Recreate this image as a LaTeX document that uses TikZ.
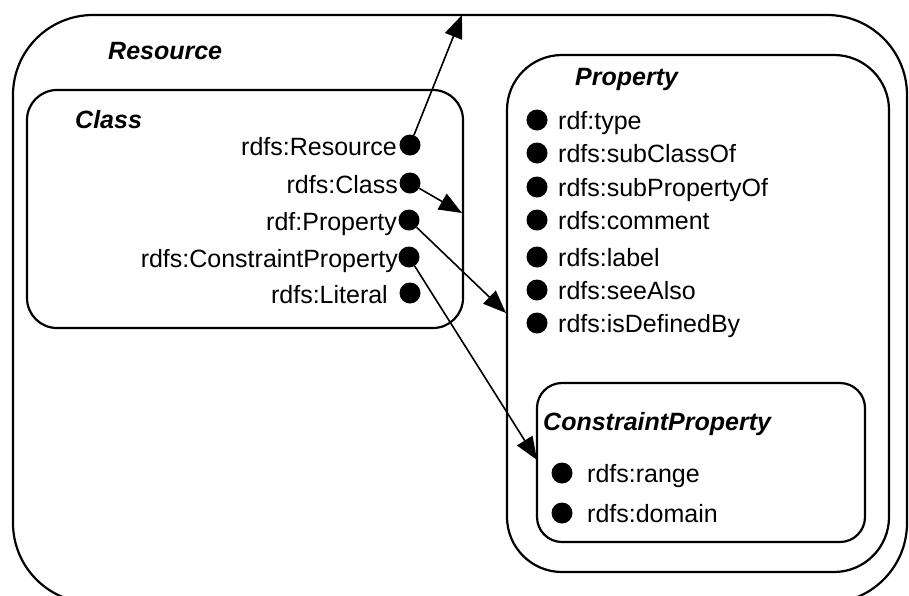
\documentclass[tikz,border=0pt]{standalone}
\usepackage{fontspec}
\setmainfont{Liberation Sans}
\usetikzlibrary{arrows.meta}
\begin{document}
\begin{tikzpicture}[x=1pt,y=-1pt,
  box/.style={draw, line width=2.2pt, inner sep=0pt},
  title/.style={font=\fontsize{25}{30}\selectfont\bfseries\itshape, inner sep=0pt, anchor=base west},
  item/.style={font=\fontsize{25}{30}\selectfont, inner sep=0pt},
  dot/.style={circle, fill=black, minimum size=21pt, inner sep=0pt},
  link/.style={line width=1.6pt, -{Triangle[length=23pt,width=18pt]}}]
\useasboundingbox (0,0) rectangle (909,595);
\fill[white] (0,0) rectangle (909,595);
\clip (0,0) rectangle (909,595);

% containers
\node[box, rounded corners=80pt, minimum width=894pt, minimum height=588pt] (resBox) at (460,309) {};
\node[box, rounded corners=30pt, minimum width=436pt, minimum height=238pt] (classBox) at (245,209) {};
\node[box, rounded corners=55pt, minimum width=382pt, minimum height=517pt] (propBox) at (698,313.5) {};
\node[box, rounded corners=25pt, minimum width=328pt, minimum height=159pt] (cpBox) at (701,462.5) {};

% titles
\node[title] (resTitle) at (108,59) {Resource};
\node[title] (classTitle) at (75,128) {Class};
\node[title] (propTitle) at (575,85) {Property};
\node[title] (cpTitle) at (543,430) {ConstraintProperty};

% classes
\node[item, anchor=base east] (cRes)  at (397,155) {rdfs:Resource};
\node[item, anchor=base east] (cCls)  at (398,193) {rdfs:Class};
\node[item, anchor=base east] (cProp) at (397,230) {rdf:Property};
\node[item, anchor=base east] (cCP)   at (398,267) {rdfs:ConstraintProperty};
\node[item, anchor=base east] (cLit)  at (388,303) {rdfs:Literal};
\node[dot] (dRes)  at (410,145) {};
\node[dot] (dCls)  at (410,183) {};
\node[dot] (dProp) at (409,220) {};
\node[dot] (dCP)   at (409,257) {};
\node[dot] (dLit)  at (410,293) {};

% properties
\foreach \y/\name/\txt in {120/pType/rdf:type, 153/pSubC/rdfs:subClassOf,
    187/pSubP/rdfs:subPropertyOf, 220/pCom/rdfs:comment, 257/pLab/rdfs:label,
    290/pSee/rdfs:seeAlso, 323/pDef/rdfs:isDefinedBy} {
  \node[dot] (d\name) at (537,\y) {};
  \node[item, anchor=base west] (\name) at (558,\y+9) {\txt};
}

% constraint properties
\node[dot] (dRange)  at (562,473) {};
\node[item, anchor=base west] (cpRange)  at (587,482) {rdfs:range};
\node[dot] (dDomain) at (562,513) {};
\node[item, anchor=base west] (cpDomain) at (587,522) {rdfs:domain};

% arrow ends
\coordinate (tRes)  at (462,15);
\coordinate (tCls)  at (462,213);
\coordinate (tProp) at (506,313);
\coordinate (tCP)   at (537,460);

\draw[link] (dRes)  -- (tRes);
\draw[link] (dCls)  -- (tCls);
\draw[link] (dProp) -- (tProp);
\draw[link] (dCP)   -- (tCP);
\end{tikzpicture}
\end{document}
